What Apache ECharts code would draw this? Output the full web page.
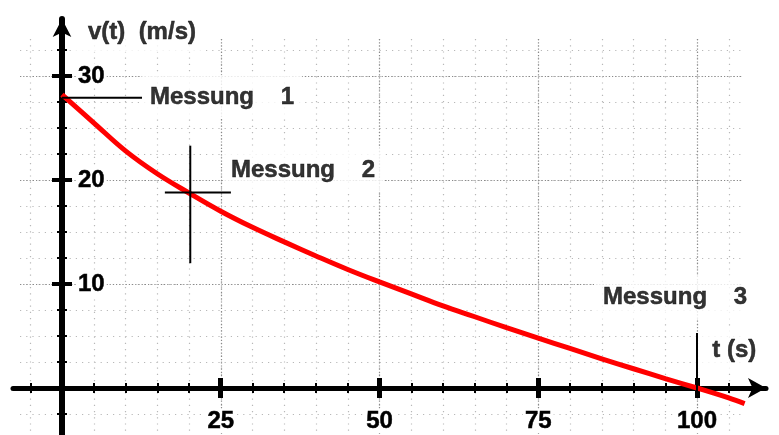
<!DOCTYPE html>
<html><head><meta charset="utf-8">
<script src="https://cdn.jsdelivr.net/npm/echarts@6/dist/echarts.min.js"></script>
<style>html,body{margin:0;padding:0;background:#fff}#c{width:779px;height:435px}</style>
</head><body><div id="c"></div>
<script>
// ---- data ----
const curveT = [0,5,10,15,20,25,30,35,40,45,50,55,60,65,70,75,80,85,90,95,100,105,107.5];
const curveV = [28.2,25.5,22.8,20.6,18.75,17.0,15.45,14.05,12.7,11.4,10.2,9.05,7.9,6.85,5.8,4.8,3.8,2.8,1.85,0.9,0.0,-0.95,-1.5];

const xLabels = [25,50,75,100];
const yLabels = [10,20,30];
const xMajorTicks = [25,50,75,100];
const xMinorTicks = [-5,5,10,15,20,30,35,40,45,55,60,65,70,80,85,90,95,105];
const yMajorTicks = [10,20,30];
const yMinorTicks = [-2.5,2.5,5,7.5,12.5,15,17.5,22.5,25,27.5,32.5];
const xGridMinor = [-5,0,5,10,15,20,25,30,35,40,45,50,55,60,65,70,75,80,85,90,95,100,105];
const xGridMajor = [0,25,50,75,100];
const yGridMinor = [-2.5,0,2.5,5,7.5,10,12.5,15,17.5,20,22.5,25,27.5,30,32.5];
const yGridMajor = [0,10,20,30];

// measurement markers (data space)
const mess1T = [0,12.6],  mess1V = [27.9,27.9];
const mess2hT = [16.2,26.6], mess2hV = [18.8,18.8];
const mess2vT = [20.2,20.2], mess2vV = [23.3,12.0];
const mess3T = [100,100], mess3V = [5.3,-0.8];

// text annotations (data space: left of text, vertical centre)
const messTexts = ['Messung    1','Messung    2','Messung    3'];
const messT = [13.86, 26.61, 85.2];
const messV = [27.98, 20.96, 8.75];
const titleTexts = ['v(t)  (m/s)','t (s)'];
const titleT = [4.09, 102.4];
const titleV = [34.23, 3.65];

// ---- layout (pixels) ----
const OX = 62, OY = 388, PXX = 6.35, PXY = 10.4;
const toT = px => (px - OX) / PXX;
const toV = py => (OY - py) / PXY;

const FONT = { fontFamily: 'Liberation Sans, Arial, sans-serif', fontWeight: 'bold', fontSize: 24,
  color: '#000', textBorderColor: '#000', textBorderWidth: 0.5 };

// grid-line grids
const gL = 20, gR = 743, gT = 39, gB = 435;
// axis grids
const aL = 13, aR = 766, aT = 19, aB = 435;

const grids = [];
const xAxes = [];
const yAxes = [];

function gridRect(l, t, r, b) {
  return { left: l, top: t, width: r - l, height: b - t, containLabel: false, outerBoundsMode: 'none' };
}

function addGridLines(xVals, yVals, style) {
  const gi = grids.length;
  grids.push(gridRect(gL, gT, gR, gB));
  xAxes.push({ type: 'value', gridIndex: gi, min: toT(gL), max: toT(gR),
    axisLine: { show: false }, axisLabel: { show: false },
    axisTick: { show: false, customValues: xVals },
    splitLine: { show: true, lineStyle: style } });
  yAxes.push({ type: 'value', gridIndex: gi, min: toV(gB), max: toV(gT),
    axisLine: { show: false }, axisLabel: { show: false },
    axisTick: { show: false, customValues: yVals },
    splitLine: { show: true, lineStyle: style } });
}
addGridLines(xGridMinor, yGridMinor, { color: '#b8b8b8', width: 1.2, type: [1.2, 5] });
addGridLines(xGridMajor, yGridMajor, { color: '#8a8a8a', width: 1.2, type: [1.2, 2] });

function addAxes(xTicks, yTicks, xLen, yLen, xW, yW, inside, main) {
  const gi = grids.length;
  grids.push(gridRect(aL, aT, aR, aB));
  xAxes.push({ type: 'value', gridIndex: gi, min: toT(aL), max: toT(aR),
    axisLine: { show: !!main, onZero: true, symbol: ['none', 'arrow'], symbolSize: [15, 18],
      lineStyle: { color: '#000', width: 5 } },
    axisTick: { show: true, inside: inside, customValues: xTicks, length: xLen,
      lineStyle: { color: '#000', width: xW } },
    axisLabel: { show: false }, splitLine: { show: false } });
  yAxes.push({ type: 'value', gridIndex: gi, min: toV(aB), max: toV(aT),
    axisLine: { show: !!main, onZero: true, symbol: ['none', 'arrow'], symbolSize: [14, 18],
      lineStyle: { color: '#000', width: 6 } },
    axisTick: { show: true, inside: inside, customValues: yTicks, length: yLen,
      lineStyle: { color: '#000', width: yW } },
    axisLabel: { show: false }, splitLine: { show: false } });
  return gi;
}
const MAIN = addAxes(xMajorTicks, yMajorTicks, 10, 10, 5, 4, false, true);
addAxes(xMajorTicks, yMajorTicks, 10, 10, 5, 4, true, false);
addAxes(xMinorTicks, yMinorTicks, 5, 5, 2, 2, false, false);
addAxes(xMinorTicks, yMinorTicks, 5, 5, 2, 2, true, false);

// tick-label grid: its edges run through the origin, so labels sit beside the axes
(function () {
  const gi = grids.length;
  grids.push(gridRect(OX, aT, aR, OY));
  xAxes.push({ type: 'value', gridIndex: gi, min: 0, max: toT(aR),
    axisLine: { show: false }, axisTick: { show: false }, splitLine: { show: false },
    axisLabel: Object.assign({ show: true, customValues: xLabels, margin: 21,
      backgroundColor: '#fff', padding: [0, 2] }, FONT) });
  yAxes.push({ type: 'value', gridIndex: gi, min: 0, max: toV(aT),
    axisLine: { show: false }, axisTick: { show: false }, splitLine: { show: false },
    axisLabel: Object.assign({ show: true, inside: true, customValues: yLabels, margin: 14,
      backgroundColor: '#fff', padding: [0, 2] }, FONT) });
})();

const zip = (a, b) => a.map((v, i) => [v, b[i]]);

function markerLine(ts, vs) {
  return { type: 'line', xAxisIndex: MAIN, yAxisIndex: MAIN, data: zip(ts, vs),
    symbol: 'none', silent: true, z: 6, lineStyle: { color: '#000', width: 2 } };
}

function textSeries(texts, ts, vs, pad) {
  return { type: 'scatter', xAxisIndex: MAIN, yAxisIndex: MAIN, symbolSize: 1, z: 4,
    itemStyle: { color: 'rgba(0,0,0,0)' }, silent: true,
    data: texts.map((s, i) => ({ name: s, value: [ts[i], vs[i]] })),
    label: Object.assign({ show: true, formatter: '{b}', position: [0.5, 0.5],
      align: 'left', verticalAlign: 'middle', offset: [-pad[3], 0],
      backgroundColor: '#fff', padding: pad }, FONT) };
}

const series = [
  { type: 'line', xAxisIndex: MAIN, yAxisIndex: MAIN, data: zip(curveT, curveV),
    smooth: 0.4, symbol: 'none', z: 5, silent: true,
    lineStyle: { color: '#ff0000', width: 5 } },
  markerLine(mess1T, mess1V),
  markerLine(mess2hT, mess2hV),
  markerLine(mess2vT, mess2vV),
  markerLine(mess3T, mess3V),
  textSeries(messTexts, messT, messV, [10, 8, 10, 8]),
  textSeries(titleTexts, titleT, titleV, [8, 10, 8, 14]),
];

const chart = echarts.init(document.getElementById('c'), null, { renderer: 'canvas' });
chart.setOption({
  backgroundColor: '#fff',
  animation: false,
  grid: grids,
  xAxis: xAxes,
  yAxis: yAxes,
  series: series
});
</script>
</body></html>
